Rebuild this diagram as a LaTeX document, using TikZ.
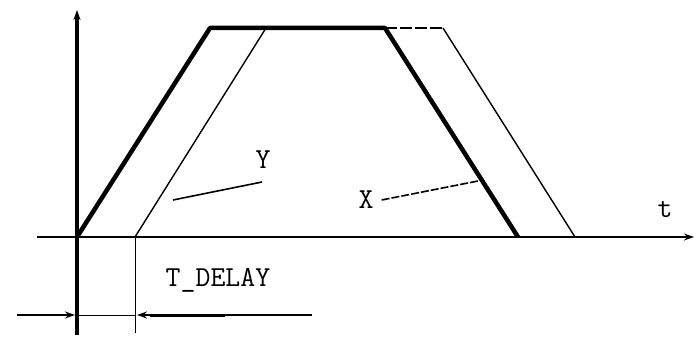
\documentclass[tikz,border=0pt]{standalone}
\usetikzlibrary{arrows.meta,positioning}

\begin{document}
\begin{tikzpicture}[x=1pt,y=1pt,
    lbl/.style={font=\ttfamily\fontsize{29}{29}\selectfont, inner sep=0pt},
    tip/.style={-{Stealth[length=10pt,width=7pt]}}]
\useasboundingbox (0,0) rectangle (695,337);

% Axes
\coordinate (O) at (77,100);
\draw[line width=3.5pt, tip] (77,2) -- (77,327);
\draw[line width=2.2pt, tip] (37,100) -- (694,100);
\node[lbl] (t) at (665,127) {t};

% X (set value)
\draw[line width=4.5pt, line join=round] (O) -- (210,309) -- (385,309) -- (518,100);

% Y (delayed)
\coordinate (D) at (135,100);
\draw[line width=1.4pt] (D) -- (266,309) -- (385,309);
\draw[line width=1.4pt, dashed, dash pattern=on 12pt off 3pt] (385,309) -- (443,309);
\draw[line width=1.4pt] (443,309) -- (575,100);

% Labels
\node[lbl] (y) at (263,177) {Y};
\node[lbl] (x) at (366,137) {X};
\coordinate (ya) at (173,137);
\coordinate (xa) at (478,156);
\draw[line width=1.6pt] (ya) -- (262,155);
\draw[line width=1.6pt, dashed, dash pattern=on 8pt off 2pt] (x.east) ++(8pt,0) -- (xa);

% Delay
\draw[line width=1pt] (D) -- (135,4);
\draw[line width=1pt] (77,22) -- (135,22);
\draw[line width=1.6pt, tip] (17,22) -- (75,22);
\draw[line width=1.6pt, tip] (312,22) -- (137,22);
\draw[line width=3pt] (150,22) -- (225,22);
\node[lbl] (delay) at (218,57) {T\_DELAY};
\end{tikzpicture}
\end{document}
